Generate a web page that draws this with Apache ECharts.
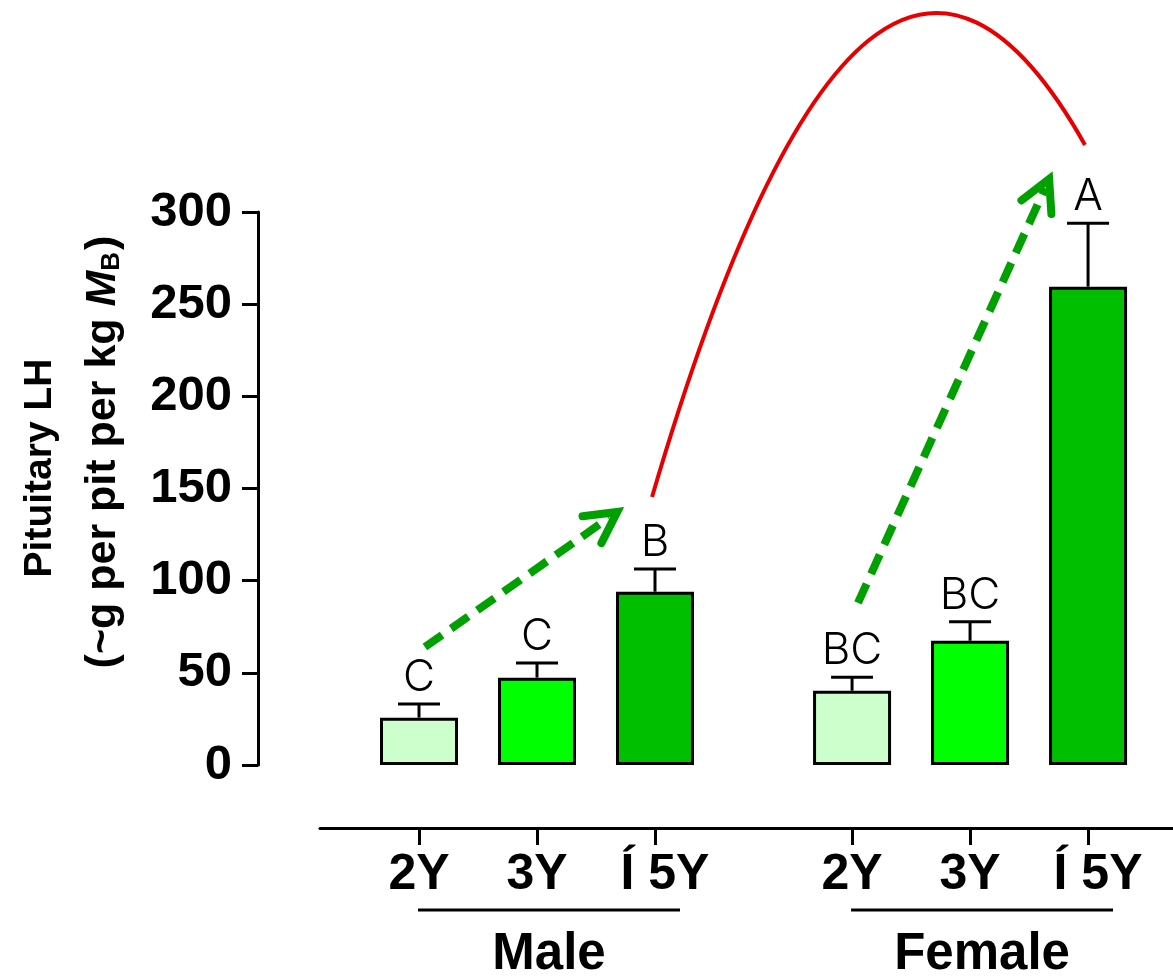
<!DOCTYPE html>
<html><head><meta charset="utf-8">
<script src="https://cdn.jsdelivr.net/npm/echarts@6/dist/echarts.min.js"></script>
<style>html,body{margin:0;padding:0;background:#fff}#c{width:1173px;height:978px}</style>
</head><body><div id="c"></div>
<script>
// ---- data ----
const ageLabels = ['2Y', '3Y', 'Í 5Y', '2Y', '3Y', 'Í 5Y'];
const sexGroups = ['Male', 'Female'];
const groupMembers = [[0, 1, 2], [3, 4, 5]];
const xPositions = [0, 1, 2, 3.67, 4.67, 5.67];
const lhMean = [25.7, 47.4, 94.0, 40.3, 67.4, 259.5];
const lhSem = [7.4, 7.9, 12.3, 7.3, 10.3, 34.4];
const sigLetters = ['C', 'C', 'B', 'BC', 'BC', 'A'];
const yTicks = [0, 50, 100, 150, 200, 250, 300];
const trendArrows = [[[0.05, 64.0], [1.68, 137.3]], [[3.72, 87.9], [5.34, 317.9]]];
const sexArc = [[1.975, 145.4], [3.809, 545.1], [5.644, 336.4]]; // start, control, end
const ageColors = ['#ccffcc', '#00ff00', '#00bf00'];

const BOLD = 'Liberation Sans';
const THIN = 'Inter';

const chart = echarts.init(document.getElementById('c'), null, {renderer: 'canvas'});

function labelFor(v) {
  let best = 0;
  xPositions.forEach((x, i) => { if (Math.abs(x - v) < Math.abs(xPositions[best] - v)) best = i; });
  return best;
}

const option = {
  backgroundColor: '#fff',
  animation: false,
  grid: [
    {left: 258, top: 212, width: 915, height: 553},
    {left: 320, top: 827, width: 853, height: 1}
  ],
  xAxis: [
    {gridIndex: 0, type: 'value', min: -161 / 118, max: -161 / 118 + 915 / 118, show: false},
    {gridIndex: 1, type: 'value', min: -99 / 118, max: -99 / 118 + 853 / 118, position: 'bottom',
      axisLine: {show: true, onZero: false, lineStyle: {color: '#000', width: 3}},
      axisTick: {show: true, customValues: xPositions, length: 17, lineStyle: {color: '#000', width: 3}},
      splitLine: {show: false},
      axisLabel: {
        show: true, customValues: xPositions, margin: 22,
        fontFamily: BOLD, fontWeight: 'bold', fontSize: 50, color: '#000',
        formatter: v => {
          const i = labelFor(v);
          return i % 3 === 2 ? '{g|' + ageLabels[i] + '}' : ageLabels[i];
        },
        rich: {g: {fontFamily: BOLD, fontWeight: 'bold', fontSize: 50, color: '#000', padding: [0, 0, 0, 20]}}
      }
    }
  ],
  yAxis: [
    {gridIndex: 0, type: 'value', min: 0, max: 300, interval: 50, position: 'left',
      axisLine: {show: true, onZero: false, lineStyle: {color: '#000', width: 3}},
      axisTick: {show: true, length: 16, lineStyle: {color: '#000', width: 3}},
      splitLine: {show: false},
      axisLabel: {margin: 26, fontFamily: BOLD, fontWeight: 'bold', fontSize: 49, color: '#000',
        formatter: v => yTicks.includes(v) ? String(v) : ''}
    },
    {gridIndex: 1, type: 'value', min: 0, max: 1, show: false}
  ],
  series: [
    {
      type: 'bar', xAxisIndex: 0, yAxisIndex: 0, barWidth: 78,
      data: xPositions.map((x, i) => ({value: [x, lhMean[i]], itemStyle: {color: ageColors[i % 3]}})),
      itemStyle: {borderColor: '#000', borderWidth: 3},
      z: 2
    },
    {
      type: 'custom', xAxisIndex: 0, yAxisIndex: 0, z: 3,
      data: xPositions.map((x, i) => [x, lhMean[i], lhSem[i]]),
      renderItem: (params, api) => {
        const x = api.value(0), m = api.value(1), s = api.value(2);
        const p0 = api.coord([x, m]);
        const p1 = api.coord([x, m + s]);
        return {
          type: 'group',
          children: [
            {type: 'line', shape: {x1: p0[0], y1: p0[1], x2: p1[0], y2: p1[1]}, style: {stroke: '#000', lineWidth: 3}},
            {type: 'line', shape: {x1: p1[0] - 21, y1: p1[1], x2: p1[0] + 21, y2: p1[1]}, style: {stroke: '#000', lineWidth: 3}},
            {type: 'text', x: p1[0], y: p1[1] - 4,
              style: {text: sigLetters[params.dataIndex], fontFamily: THIN, fontWeight: 300, fontSize: 44, fill: '#000',
                textAlign: 'center', textVerticalAlign: 'bottom'}}
          ]
        };
      }
    },
    {
      type: 'custom', xAxisIndex: 0, yAxisIndex: 0, z: 4, clip: false,
      data: trendArrows.map(a => [a[0][0], a[0][1], a[1][0], a[1][1]]),
      renderItem: (params, api) => {
        const p0 = api.coord([api.value(0), api.value(1)]);
        const p1 = api.coord([api.value(2), api.value(3)]);
        const dx = p1[0] - p0[0], dy = p1[1] - p0[1];
        const len = Math.hypot(dx, dy);
        const ux = dx / len, uy = dy / len;
        const bx = -ux, by = -uy;
        const a = 28 * Math.PI / 180, L = 35;
        const rot = (ang) => [bx * Math.cos(ang) - by * Math.sin(ang), bx * Math.sin(ang) + by * Math.cos(ang)];
        const r1 = rot(a), r2 = rot(-a);
        const green = '#00a000';
        return {
          type: 'group',
          children: [
            {type: 'line', shape: {x1: p0[0], y1: p0[1], x2: p1[0] - ux * 10, y2: p1[1] - uy * 10},
              style: {stroke: green, lineWidth: 8, lineDash: [21, 11]}},
            {type: 'polyline', shape: {points: [[p1[0] + r1[0] * L, p1[1] + r1[1] * L], [p1[0], p1[1]], [p1[0] + r2[0] * L, p1[1] + r2[1] * L]]},
              style: {stroke: green, lineWidth: 8, fill: 'none', lineCap: 'round', lineJoin: 'miter'}}
          ]
        };
      }
    },
    {
      type: 'custom', xAxisIndex: 0, yAxisIndex: 0, z: 4, clip: false,
      data: [[sexArc[0][0], sexArc[0][1], sexArc[1][0], sexArc[1][1], sexArc[2][0], sexArc[2][1]]],
      renderItem: (params, api) => {
        const s = api.coord([api.value(0), api.value(1)]);
        const c = api.coord([api.value(2), api.value(3)]);
        const e = api.coord([api.value(4), api.value(5)]);
        return {type: 'bezierCurve', shape: {x1: s[0], y1: s[1], cpx1: c[0], cpy1: c[1], x2: e[0], y2: e[1]},
          style: {stroke: '#e80000', lineWidth: 4, fill: 'none'}};
      }
    },
    {
      type: 'custom', xAxisIndex: 1, yAxisIndex: 1, z: 4, clip: false,
      data: groupMembers.map(g => [xPositions[g[0]], xPositions[g[g.length - 1]]]),
      renderItem: (params, api) => {
        const a = api.coord([api.value(0), 0]);
        const b = api.coord([api.value(1), 0]);
        const x1 = a[0] - 1, x2 = b[0] + 25;
        return {
          type: 'group',
          children: [
            {type: 'line', shape: {x1: x1, y1: a[1] + 82, x2: x2, y2: a[1] + 82}, style: {stroke: '#000', lineWidth: 3}},
            {type: 'text', x: (x1 + x2) / 2, y: a[1] + 127,
              style: {text: sexGroups[params.dataIndex], fontFamily: BOLD, fontWeight: 'bold', fontSize: 51, fill: '#000',
                textAlign: 'center', textVerticalAlign: 'middle'}}
          ]
        };
      }
    }
  ],
  graphic: [
    {type: 'text', x: 40, y: 468, rotation: Math.PI / 2,
      style: {text: 'Pituitary LH', fontFamily: BOLD, fontWeight: 'bold', fontSize: 39, fill: '#000',
        textAlign: 'center', textVerticalAlign: 'middle'}},
    {type: 'text', x: 103, y: 452, rotation: Math.PI / 2,
      style: {text: '(~g per pit per kg {it|M}{sub|B})', fontFamily: BOLD, fontWeight: 'bold', fontSize: 43, fill: '#000',
        textAlign: 'center', textVerticalAlign: 'middle',
        rich: {
          it: {fontFamily: BOLD, fontWeight: 'bold', fontStyle: 'italic', fontSize: 43, fill: '#000'},
          sub: {fontFamily: BOLD, fontWeight: 'bold', fontSize: 26, fill: '#000', verticalAlign: 'bottom', padding: [14, 2, 0, 0]}
        }}}
  ]
};
chart.setOption(option);
</script>
</body></html>
